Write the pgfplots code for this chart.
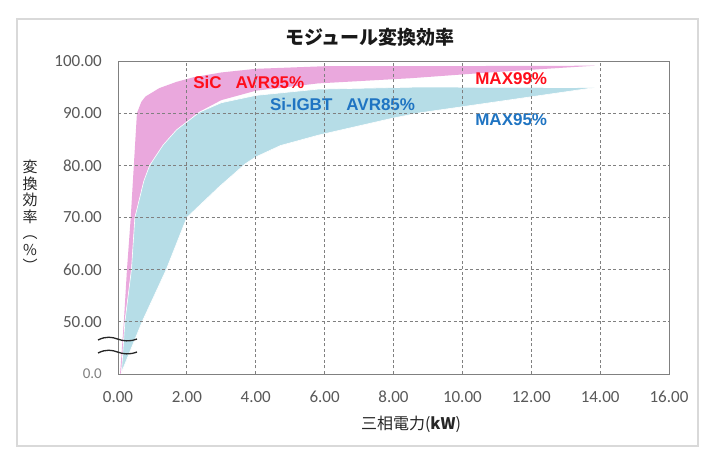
\documentclass[border=0pt]{standalone}
\usepackage{pgfplots}
\pgfplotsset{compat=1.18}
\usepackage{fontspec}
\setmainfont{Carlito}
\newfontfamily\jp{Noto Sans CJK JP}
\newfontfamily\lab{Liberation Sans}
\definecolor{sicpink}{HTML}{EAA8DD}
\definecolor{igbtblue}{HTML}{B6DDE7}
\definecolor{gridgray}{HTML}{808080}
\definecolor{axgray}{HTML}{808080}
\definecolor{tickgray}{HTML}{595959}
\definecolor{framegray}{HTML}{D9D9D9}
\definecolor{labred}{HTML}{FF0D1A}
\definecolor{labblue}{HTML}{1F74C2}
\begin{document}
\begin{tikzpicture}
\useasboundingbox (0,0) rectangle (714bp,458bp);
\fill[white] (0,0) rectangle (714bp,458bp);
\draw[draw=framegray, line width=1.5bp] (17bp,12bp) rectangle (698bp,439bp);
\begin{axis}[
  at={(118bp,84bp)}, anchor=south west,
  width=551bp, height=313bp, scale only axis,
  xmin=0, xmax=16, ymin=40, ymax=100,
  xtick={0,2,...,16},
  xticklabels={0.00,2.00,4.00,6.00,8.00,10.00,12.00,14.00,16.00},
  ytick={40,50,60,70,80,90,100},
  yticklabels={{\fontsize{15bp}{15bp}\selectfont\color{gray}0.0},50.00,60.00,70.00,80.00,90.00,100.00},
  major tick length=0pt,
  grid=major,
  axis on top,
  axis line style={draw=axgray, line width=0.8bp},
  grid style={draw=gridgray, dash pattern=on 3bp off 2.5bp, line width=0.8bp},
  tick label style={font=\fontsize{17bp}{20bp}\selectfont, text=tickgray},
  yticklabel style={anchor=east, inner sep=0pt, xshift=-16bp},
  xticklabel style={anchor=north, inner sep=0pt, yshift=-17bp},
]
% SiC band
\addplot[fill=sicpink, draw=none] coordinates {
 (0.06,40) (0.17,50) (0.26,60) (0.37,70) (0.46,80) (0.55,90) (0.68,92.2) (0.80,93.2)
 (1.2,94.8) (1.7,96.0) (2.2,96.9) (3.0,97.8) (4.0,98.5) (6.0,99.0) (8.5,99.0) (13.85,99.1)
 (11.0,97.9) (8.5,96.7) (5.8,95.7) (4.0,94.3) (3.0,92.5) (2.37,90.3) (1.7,86.8) (1.31,83.9)
 (0.92,80) (0.75,77) (0.49,70) (0.39,60) (0.2,50) (0.1,40.3)
} -- cycle;
% Si-IGBT band
\addplot[fill=igbtblue, draw=white, line width=0.6bp] coordinates {
 (0.1,40.3) (0.2,50) (0.39,60) (0.49,70) (0.75,77) (0.92,80) (1.31,83.9) (1.7,86.8)
 (2.37,90.2) (3.0,92.0) (4.0,93.4) (5.8,94.6) (8.7,95.0) (13.85,94.9)
 (8.7,90.0) (7.95,89.0) (5.83,85.8) (4.72,83.8) (4.0,81.6) (3.7,80.3) (2.94,75.9)
 (2.0,70) (1.4,60) (0.7,50)
} -- cycle;
\node[anchor=west, inner sep=0pt, text=labred, font=\lab\bfseries\fontsize{17bp}{20bp}\selectfont] at (axis cs:2.18,95.8) {SiC\hspace{14bp}AVR95\%};
\node[anchor=west, inner sep=0pt, text=labblue, font=\lab\bfseries\fontsize{17bp}{20bp}\selectfont] at (axis cs:4.41,91.6) {Si-IGBT\hspace{14bp}AVR85\%};
\node[anchor=west, inner sep=0pt, text=labred, font=\lab\bfseries\fontsize{17bp}{20bp}\selectfont] at (axis cs:10.37,96.7) {MAX99\%};
\node[anchor=west, inner sep=0pt, text=labblue, font=\lab\bfseries\fontsize{17bp}{20bp}\selectfont] at (axis cs:10.37,88.7) {MAX95\%};
\end{axis}
% axis break marks
\draw[line width=1.3bp, black!85] (98bp,118bp) .. controls (106bp,122bp) and (112bp,121bp) .. (117.5bp,119bp) .. controls (123bp,117bp) and (129bp,116bp) .. (137bp,119bp);
\draw[line width=1.3bp, black!85] (98bp,105bp) .. controls (106bp,109bp) and (112bp,108bp) .. (117.5bp,106bp) .. controls (123bp,104bp) and (129bp,103bp) .. (137bp,106bp);
% title
\node[inner sep=0pt, font=\jp\bfseries\fontsize{19bp}{22bp}\selectfont, text=black!90] at (370bp,421bp) {モジュール変換効率};
% x label
\node[inner sep=0pt, font=\jp\fontsize{16bp}{19bp}\selectfont, text=black!85] at (411bp,34bp) {三相電力(\textbf{kW})};
% y label
\node[inner sep=0pt, align=center, font=\jp\fontsize{15bp}{16.5bp}\selectfont, text=black!85] at (30bp,242bp) {変\\換\\効\\率\\︵\\\%\\︶};
\end{tikzpicture}
\end{document}
